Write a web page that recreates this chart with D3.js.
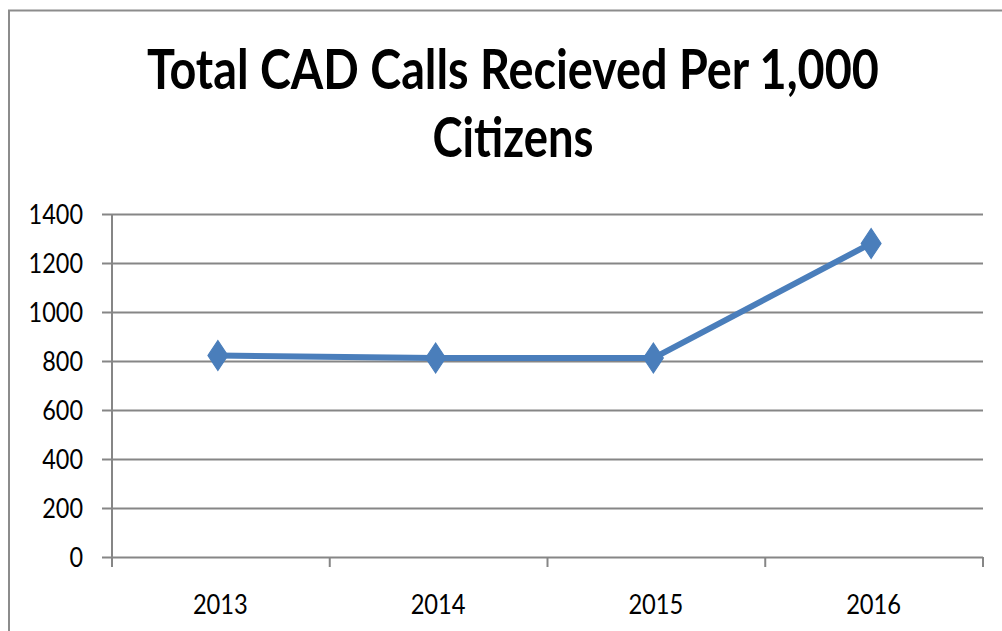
<!DOCTYPE html>
<html>
<head>
<meta charset="utf-8">
<script src="https://cdn.jsdelivr.net/npm/d3@7"></script>
<style>
  body { margin: 0; background: #fff; }
  svg { display: block; }
</style>
</head>
<body>
<div id="chart"></div>
<script>
// chart data
var years = ["2013", "2014", "2015", "2016"];
var callsPer1000 = [822, 812, 812, 1280];
var yTicks = [0, 200, 400, 600, 800, 1000, 1200, 1400];
var titleLines = ["Total CAD Calls Recieved Per 1,000", "Citizens"];

var width = 1002, height = 631;
var plotLeft = 112, plotRight = 983, plotTop = 214, plotBottom = 557;

var svg = d3.select("#chart").append("svg")
    .attr("width", width)
    .attr("height", height);

// outer frame
svg.append("rect")
    .attr("x", 9).attr("y", 10.5)
    .attr("width", 1010).attr("height", 700)
    .attr("fill", "none")
    .attr("stroke", "#8c8c8c")
    .attr("stroke-width", 2);

// title - squeezed horizontally to fit the narrow bold look of the original
var titleWidths = [732, 161];
var titleCenter = 513;
svg.selectAll("text.title")
    .data(titleLines)
    .enter()
    .append("text")
    .attr("class", "title")
    .attr("x", 0)
    .attr("y", 0)
    .attr("text-anchor", "middle")
    .attr("font-family", "Lato, 'Open Sans', sans-serif")
    .attr("font-weight", "bold")
    .attr("font-size", "55px")
    .attr("fill", "#000")
    .text(function(d){ return d; })
    .attr("transform", function(d, i){
        var w = this.getComputedTextLength();
        var k = titleWidths[i] / w;
        return "translate(" + titleCenter + "," + (89 + i * 68) + ") scale(" + k + ",1)";
    });

var x = d3.scaleBand().domain(years).range([plotLeft, plotRight]);
var y = d3.scaleLinear().domain([0, 1400]).range([plotBottom, plotTop]);

// gridlines + y labels
var yAxis = d3.axisLeft(y)
    .tickValues(yTicks)
    .tickSize(-(plotRight - plotLeft) - 10)
    .tickPadding(18)
    .tickFormat(d3.format("d"));
var gy = svg.append("g")
    .attr("transform", "translate(" + (plotLeft - 10) + ",0)")
    .call(yAxis);
gy.select(".domain").remove();
gy.selectAll(".tick line")
    .attr("x1", 0)
    .attr("x2", plotRight - plotLeft + 10)
    .attr("stroke", "#868686")
    .attr("stroke-width", 2);
gy.selectAll(".tick text")
    .attr("x", -19)
    .attr("dy", "0.36em")
    .attr("textLength", function(d){ return String(d).length * 13.6; })
    .attr("lengthAdjust", "spacingAndGlyphs")
    .attr("font-family", "Lato, sans-serif")
    .attr("font-size", "27px")
    .attr("fill", "#000");

// y axis line
svg.append("line")
    .attr("x1", plotLeft).attr("x2", plotLeft)
    .attr("y1", plotTop).attr("y2", plotBottom + 10)
    .attr("stroke", "#868686")
    .attr("stroke-width", 2);

// x axis category boundaries
var bounds = years.map(function(d){ return x(d); }).concat([plotRight]);
svg.selectAll("line.xtick")
    .data(bounds)
    .enter()
    .append("line")
    .attr("class", "xtick")
    .attr("x1", function(d){ return d; })
    .attr("x2", function(d){ return d; })
    .attr("y1", plotBottom)
    .attr("y2", plotBottom + 10)
    .attr("stroke", "#868686")
    .attr("stroke-width", 2);

svg.selectAll("text.xlabel")
    .data(years)
    .enter()
    .append("text")
    .attr("class", "xlabel")
    .attr("x", function(d){ return x(d) + x.bandwidth() / 2 - 28; })
    .attr("y", 614)
    .attr("textLength", 55)
    .attr("lengthAdjust", "spacingAndGlyphs")
    .attr("font-family", "Lato, sans-serif")
    .attr("font-size", "27px")
    .attr("fill", "#000")
    .text(function(d){ return d; });

// series line
var line = d3.line()
    .x(function(d, i){ return x(years[i]) + x.bandwidth() / 2 - 3; })
    .y(function(d){ return y(d); });

svg.append("path")
    .datum(callsPer1000)
    .attr("d", line)
    .attr("fill", "none")
    .attr("stroke", "#4a7ebb")
    .attr("stroke-width", 6)
    .attr("stroke-linejoin", "round");

// diamond markers
var diamond = d3.symbol().type(d3.symbolDiamond).size(260);
svg.selectAll("path.marker")
    .data(callsPer1000)
    .enter()
    .append("path")
    .attr("class", "marker")
    .attr("d", diamond)
    .attr("transform", function(d, i){
        return "translate(" + (x(years[i]) + x.bandwidth() / 2 - 3) + "," + y(d) + ") scale(1.15,1)";
    })
    .attr("fill", "#4a7ebb")
    .attr("stroke", "#4a7ebb")
    .attr("stroke-width", 1);
</script>
</body>
</html>
